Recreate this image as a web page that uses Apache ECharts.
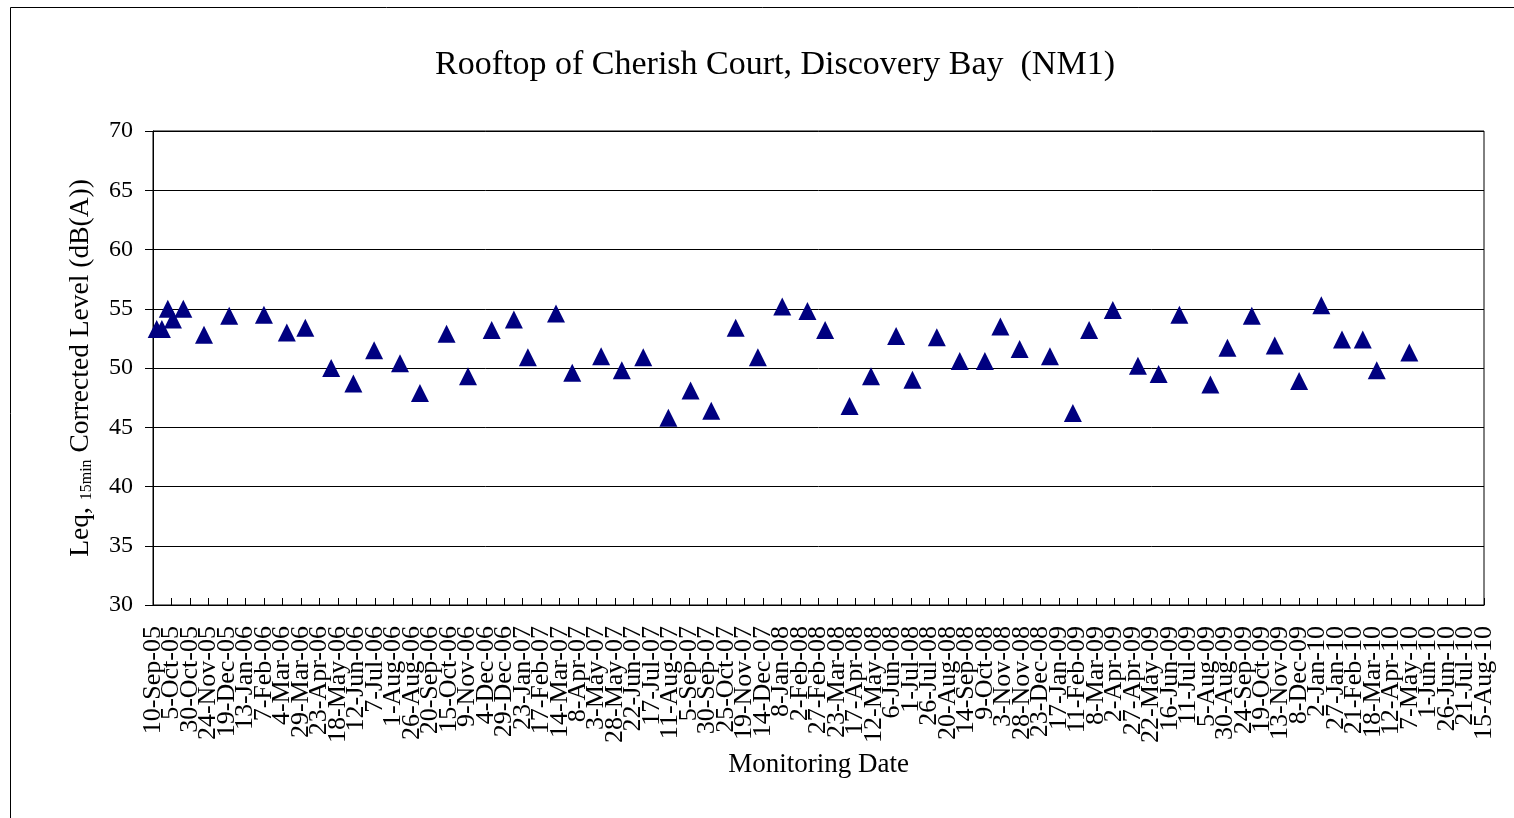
<!DOCTYPE html>
<html>
<head>
<meta charset="utf-8">
<title>NM1</title>
<script src="https://cdn.jsdelivr.net/npm/echarts@6/dist/echarts.min.js"></script>
<style>
    html, body { margin: 0; padding: 0; background: #fff; }
    #chart { width: 1514px; height: 818px; }
</style>
</head>
<body>
<div id="chart"></div>
<script>
    var dates = [
        '2005-09-15', '2005-09-22', '2005-09-30', '2005-10-07', '2005-10-21', '2005-11-18',
        '2005-12-22', '2006-02-07', '2006-03-10', '2006-04-04', '2006-05-09', '2006-06-08',
        '2006-07-06', '2006-08-10', '2006-09-06', '2006-10-12', '2006-11-10', '2006-12-12',
        '2007-01-11', '2007-01-30', '2007-03-09', '2007-03-31', '2007-05-09', '2007-06-06',
        '2007-07-05', '2007-08-08', '2007-09-07', '2007-10-05', '2007-11-07', '2007-12-07',
        '2008-01-09', '2008-02-12', '2008-03-07', '2008-04-09', '2008-05-08', '2008-06-11',
        '2008-07-03', '2008-08-05', '2008-09-05', '2008-10-09', '2008-10-30', '2008-11-25',
        '2009-01-05', '2009-02-05', '2009-02-27', '2009-03-31', '2009-05-04', '2009-06-01',
        '2009-06-29', '2009-08-10', '2009-09-02', '2009-10-05', '2009-11-05', '2009-12-08',
        '2010-01-07', '2010-02-04', '2010-03-04', '2010-03-23', '2010-05-06'
    ];
    var levels = [
        53.3, 53.3, 55.0, 54.1, 55.0, 52.8,
        54.4, 54.5, 53.0, 53.4, 50.0, 48.7,
        51.5, 50.4, 47.9, 52.9, 49.3, 53.2,
        54.1, 50.9, 54.6, 49.6, 51.0, 49.8,
        50.9, 45.8, 48.1, 46.4, 53.4, 50.9,
        55.2, 54.8, 53.2, 46.8, 49.3, 52.7,
        49.0, 52.6, 50.6, 50.6, 53.5, 51.6,
        51.0, 46.2, 53.2, 54.9, 50.2, 49.5,
        54.5, 48.6, 51.7, 54.4, 51.9, 48.9,
        55.3, 52.4, 52.4, 49.8, 51.3
    ];

    // x axis: one category per day from 10-Sep-05 to 15-Aug-10, labelled every 25 days
    var xStart = '2005-09-10';
    var xEnd = '2010-08-15';
    var xStep = 25;
    var yMin = 30, yMax = 70, yStep = 5;

    var months = ['Jan', 'Feb', 'Mar', 'Apr', 'May', 'Jun', 'Jul', 'Aug', 'Sep', 'Oct', 'Nov', 'Dec'];
    var DAY = 86400000;
    var t0 = Date.parse(xStart);

    function dayOf(s) {
        return Math.round((Date.parse(s) - t0) / DAY);
    }
    function fmtDay(v) {
        var d = new Date(t0 + v * DAY);
        var yy = String(d.getUTCFullYear() % 100);
        if (yy.length < 2) yy = '0' + yy;
        return d.getUTCDate() + '-' + months[d.getUTCMonth()] + '-' + yy;
    }

    var days = [];
    for (var i = 0; i <= dayOf(xEnd); i++) {
        days.push(fmtDay(i));
    }

    var points = [];
    dates.forEach(function (d, i) {
        points.push([dayOf(d), levels[i]]);
    });

    var serif = '"Liberation Serif", "DejaVu Serif", serif';
    var chart = echarts.init(document.getElementById('chart'));

    var option = {
        backgroundColor: '#fff',
        animation: false,
        title: {
            text: 'Rooftop of Cherish Court, Discovery Bay  (NM1)',
            left: 770,
            top: 43,
            textAlign: 'center',
            textStyle: { fontFamily: serif, fontSize: 34, fontWeight: 'normal', color: '#000' }
        },
        // outer frame, cut by the right and bottom edges
        graphic: [{
            type: 'rect',
            shape: { x: 10.5, y: 7.5, width: 1600, height: 900 },
            style: { fill: 'none', stroke: '#000', lineWidth: 1 },
            silent: true
        }],
        grid: {
            left: 153, right: 30, top: 131, bottom: 213,
            show: true, borderColor: '#000', borderWidth: 1, backgroundColor: 'transparent'
        },
        xAxis: {
            type: 'category',
            data: days,
            boundaryGap: false,
            name: 'Monitoring Date',
            nameLocation: 'middle',
            nameGap: 146,
            nameTextStyle: { fontFamily: serif, fontSize: 27, color: '#000' },
            axisLine: { lineStyle: { color: '#000', width: 1 } },
            axisTick: {
                inside: true,
                length: 7,
                interval: function (idx) { return idx % xStep === 0; },
                lineStyle: { color: '#000' }
            },
            splitLine: { show: false },
            axisLabel: {
                interval: 0,
                rotate: 90,
                margin: 21,
                fontFamily: serif,
                fontSize: 26,
                color: '#000',
                formatter: function (val, idx) {
                    return idx % xStep === 0 ? val : '';
                }
            }
        },
        yAxis: {
            type: 'value',
            min: yMin,
            max: yMax,
            interval: yStep,
            name: '{a|Leq, }{b|15min}{a| Corrected Level (dB(A))}',
            nameLocation: 'middle',
            nameGap: 58,
            nameRotate: 90,
            nameTextStyle: {
                rich: {
                    a: { fontFamily: serif, fontSize: 27.5, color: '#000' },
                    b: { fontFamily: serif, fontSize: 16, color: '#000', verticalAlign: 'bottom', padding: [9, 0, 0, 0] }
                }
            },
            axisLine: { show: true, lineStyle: { color: '#000', width: 1 } },
            axisTick: { show: true, length: 8, lineStyle: { color: '#000' } },
            splitLine: { show: true, lineStyle: { color: '#000', width: 1 } },
            axisLabel: { margin: 20, fontFamily: serif, fontSize: 24, color: '#000' }
        },
        series: [{
            name: 'NM1',
            type: 'scatter',
            symbol: 'triangle',
            symbolSize: 18,
            itemStyle: { color: '#000080', opacity: 1 },
            data: points
        }]
    };

    chart.setOption(option);
</script>
</body>
</html>
